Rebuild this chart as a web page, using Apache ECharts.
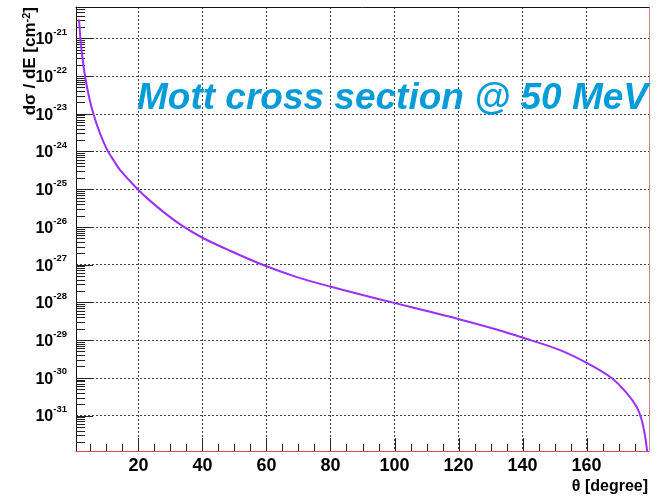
<!DOCTYPE html>
<html><head><meta charset="utf-8">
<script src="https://cdn.jsdelivr.net/npm/echarts@6/dist/echarts.min.js"></script>
<style>html,body{margin:0;padding:0;background:#fff}#c{width:665px;height:497px}</style>
</head><body><div id="c"></div>
<script>
// scattering angle (degree)
const thetaDeg = [1.44, 2.0, 2.5, 3.31, 4.56, 5.9, 8.0, 10.2, 12.2, 14.25, 17.4, 20.0, 22.6, 27.8, 33.5, 40.3, 48.6, 59.0, 69.5, 79.9, 90.3, 100.2, 111.1, 119.9, 131.9, 140.2, 151.5, 160.2, 167.9, 172.5, 175.7, 177.2, 178.3, 179.3];
// dσ/dE in cm^-2
const crossSection = [3.16e-21, 7.50e-22, 3.16e-22, 1.00e-22, 2.82e-23, 1.02e-23, 3.02e-24, 1.12e-24, 5.89e-25, 3.24e-25, 1.62e-25, 9.55e-26, 5.89e-26, 2.51e-26, 1.10e-26, 5.01e-27, 2.34e-27, 9.77e-28, 4.68e-28, 2.63e-28, 1.55e-28, 9.55e-29, 5.62e-29, 3.63e-29, 1.91e-29, 1.15e-29, 5.50e-30, 2.45e-30, 9.77e-31, 3.98e-31, 1.66e-31, 7.76e-32, 2.75e-32, 6.31e-33];
const xTickLabels = [20, 40, 60, 80, 100, 120, 140, 160];
const xMinorStep = 5;
const yDecades = [-31, -30, -29, -28, -27, -26, -25, -24, -23, -22, -21];
const titleText = 'Mott cross section @ 50 MeV';
const xName = 'θ [degree]';
const yName = 'dσ / dE [cm{s|-2}]';

const X_MIN = 0.5, X_MAX = 179.5;
const Y_MIN = -31.94, Y_MAX = -20.17;
const SANS = "'Liberation Sans',Arial,sans-serif";

// tick positions
const xMajor = xTickLabels.slice();
const xMinor = [];
for (let t = xMinorStep; t < X_MAX; t += xMinorStep) if (t % 20 !== 0) xMinor.push(t);
const yMajor = yDecades.slice();
const yMinor = [];
for (let n = -33; n <= -20; n++) for (let k = 2; k <= 9; k++) {
  const v = Math.log10(k) + n;
  if (v > Y_MIN && v < Y_MAX) yMinor.push(v);
}

const curve = thetaDeg.map((t, i) => [t, Math.log10(crossSection[i])]);

function xTicks(params, api) {
  const p = api.coord([api.value(0), Y_MIN]);
  const len = api.value(2);
  const x = Math.round(p[0]) + 0.5;
  const cs = params.coordSys;
  const yb = cs.y + cs.height;
  return {type: 'line', shape: {x1: x, y1: yb, x2: x, y2: yb - len}, style: {stroke: '#222', lineWidth: 1}};
}
function yTicks(params, api) {
  const p = api.coord([X_MIN, api.value(1)]);
  const len = api.value(2);
  const y = Math.round(p[1]) + 0.5;
  const cs = params.coordSys;
  return {type: 'line', shape: {x1: cs.x, y1: y, x2: cs.x + len, y2: y}, style: {stroke: '#222', lineWidth: 1}};
}

const chart = echarts.init(document.getElementById('c'), null, {renderer: 'canvas'});
const splitStyle = {show: true, showMinLine: false, showMaxLine: false, lineStyle: {color: '#444', type: [2, 2], width: 1}};
chart.setOption({
  animation: false,
  backgroundColor: '#fff',
  grid: {left: 76, right: 16, top: 7, bottom: 46, containLabel: false},
  xAxis: [{
    type: 'value', min: X_MIN, max: X_MAX, splitNumber: 9, position: 'bottom',
    axisLine: {show: true, onZero: false, lineStyle: {color: '#e04848', width: 1}},
    axisTick: {show: false}, minorTick: {show: false},
    axisLabel: {show: true, margin: 6, color: '#000', fontFamily: SANS, fontWeight: 'bold', fontSize: 18,
      showMinLabel: false, showMaxLabel: false,
      formatter: v => (Math.abs(v % 20) < 1e-6 && v > 1 && v < 179) ? String(Math.round(v)) : ''},
    splitLine: splitStyle
  }, {
    type: 'value', min: X_MIN, max: X_MAX, position: 'top',
    axisLine: {show: true, onZero: false, lineStyle: {color: '#111', width: 1}},
    axisTick: {show: false}, axisLabel: {show: false}, splitLine: {show: false}
  }],
  yAxis: [{
    type: 'value', min: Y_MIN, max: Y_MAX, splitNumber: 11, position: 'left',
    axisLine: {show: true, onZero: false, lineStyle: {color: '#111', width: 1}},
    axisTick: {show: false},
    axisLabel: {show: true, margin: 9, color: '#000', showMinLabel: false, showMaxLabel: false,
      formatter: v => {
        const r = Math.round(v);
        if (Math.abs(v - r) > 1e-6) return '';
        return '{b|10}{s|' + r + '}';
      },
      rich: {
        b: {fontFamily: SANS, fontWeight: 'bold', fontSize: 16, lineHeight: 22, color: '#000', padding: [3, 0, 0, 0]},
        s: {fontFamily: SANS, fontWeight: 'bold', fontSize: 9.5, lineHeight: 9, verticalAlign: 'top', color: '#000'}
      }},
    splitLine: splitStyle
  }, {
    type: 'value', min: Y_MIN, max: Y_MAX, position: 'right',
    axisLine: {show: true, onZero: false, lineStyle: {color: '#cf8484', width: 1}},
    axisTick: {show: false}, axisLabel: {show: false}, splitLine: {show: false}
  }],
  series: [{
    type: 'line', name: 'Mott', data: curve, showSymbol: false, symbol: 'none',
    smooth: 0.3, clip: true,
    lineStyle: {color: '#9b30f8', width: 2}, z: 5
  }, {
    type: 'custom', name: 'xticks', renderItem: xTicks, z: 3, silent: true,
    data: xMajor.map(t => [t, Y_MIN, 13]).concat(xMinor.map(t => [t, Y_MIN, 7]))
  }, {
    type: 'custom', name: 'yticks', renderItem: yTicks, z: 3, silent: true,
    data: yMajor.map(v => [X_MIN, v, 17]).concat(yMinor.map(v => [X_MIN, v, 9]))
  }],
  graphic: [{
    type: 'text', left: 137, top: 80, z: 10, silent: true,
    style: {text: titleText, fill: '#049cd8', fontFamily: SANS, fontWeight: 'bold', fontStyle: 'italic', fontSize: 37}
  }, {
    type: 'text', x: 30, y: 7, rotation: Math.PI / 2, z: 10, silent: true,
    style: {text: yName, align: 'right', verticalAlign: 'middle', fill: '#000', fontFamily: SANS, fontWeight: 'bold', fontSize: 17,
      rich: {s: {fontFamily: SANS, fontWeight: 'bold', fontSize: 11, lineHeight: 10, verticalAlign: 'top', fill: '#000'}}}
  }, {
    type: 'text', x: 648, y: 487, z: 10, silent: true,
    style: {text: xName, align: 'right', verticalAlign: 'middle', fill: '#000', fontFamily: SANS, fontWeight: 'bold', fontSize: 16}
  }]
});
</script>
</body></html>
